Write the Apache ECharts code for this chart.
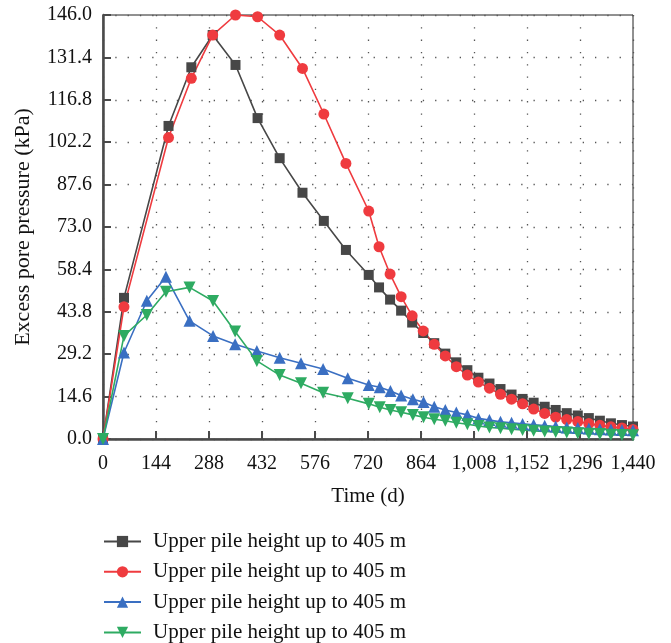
<!DOCTYPE html>
<html>
<head>
<meta charset="utf-8">
<script src="https://cdn.jsdelivr.net/npm/echarts@6/dist/echarts.min.js"></script>
<style>
html,body{margin:0;padding:0;background:#fff;}
#chart{width:671px;height:643px;}
</style>
</head>
<body>
<div id="chart"></div>
<script>
const seriesNames = ['Upper pile height up to 405 m','Upper pile height up to 405 m','Upper pile height up to 405 m','Upper pile height up to 405 m'];
const xTicks = [0,144,288,432,576,720,864,1008,1152,1296,1440];
const yTicks = [0.0,14.6,29.2,43.8,58.4,73.0,87.6,102.2,116.8,131.4,146.0];

const timeA = [0,57,178,240,298,360,420,480,542,600,660,722,750,780,810,840,870,900,930,960,990,1020,1050,1080,1110,1140,1170,1200,1230,1260,1290,1320,1350,1380,1410,1440];
const blackVals = [0,48.6,107.8,128.0,139.1,128.8,110.5,96.7,84.8,75.1,65.1,56.5,52.2,48.0,44.2,40.1,36.5,33.0,29.4,26.4,23.7,21.1,19.1,17.2,15.3,13.8,12.5,11.1,10.0,8.9,8.1,7.2,6.3,5.4,4.8,4.3];
const redVals = [0,45.5,103.8,124.2,139.1,146.0,145.4,139.1,127.6,111.9,94.9,78.5,66.2,56.8,49.0,42.4,37.2,32.6,28.6,24.9,22.0,19.6,17.5,15.4,13.7,12.1,10.3,8.8,7.5,6.7,6.0,5.3,4.7,4.2,3.8,3.3];

const timeB = [0,57,119,171,235,299,359,418,480,538,598,665,722,752,781,810,842,871,900,930,960,990,1020,1050,1080,1110,1140,1170,1200,1230,1260,1290,1320,1350,1380,1410,1440];
const blueVals = [0,29.8,47.6,55.9,40.7,35.5,32.6,30.3,28.0,26.1,24.1,20.9,18.6,17.8,16.5,15.0,13.7,12.7,11.1,10.0,9.1,8.3,7.1,6.5,5.9,5.6,5.2,4.9,4.6,4.3,4.0,3.8,3.6,3.4,3.3,3.1,3.0];
const greenVals = [0,35.5,42.7,50.7,52.2,47.5,37.0,26.9,22.0,19.2,15.9,14.0,12.1,10.9,10.0,9.2,8.3,7.5,6.8,6.3,5.6,5.1,4.5,4.0,3.7,3.4,3.1,2.8,2.6,2.4,2.2,2.0,1.8,1.7,1.5,1.4,1.3];

const colors = ['#474747','#ef3b3f','#3a6fc2','#2eab62'];
const symbols = ['rect','circle','triangle','path://M0,0 L10,0 L5,9 Z'];
const symbolSizes = [10,11,12,12];

function pair(xs, ys){ return xs.map((x,i)=>[x, ys[i]]); }
const datasets = [pair(timeA,blackVals), pair(timeA,redVals), pair(timeB,blueVals), pair(timeB,greenVals)];

const font = '"Liberation Serif","DejaVu Serif",serif';
function fmtX(v){ return Number(v).toLocaleString('en-US'); }

const chart = echarts.init(document.getElementById('chart'));
chart.setOption({
  animation:false,
  textStyle:{fontFamily:font},
  grid:{left:103,right:38,top:15,bottom:204,show:true,borderColor:'#222',borderWidth:1},
  legend:{
    orient:'vertical', left:103, top:531, height:125, padding:0,
    itemWidth:37, itemHeight:14, itemGap:9.3,
    textStyle:{fontFamily:font,fontSize:21,lineHeight:21,color:'#111',padding:[0,0,0,7]},
    data:seriesNames.map((n,i)=>({name:n+'\u200b'.repeat(i)}))
  },
  xAxis:{
    type:'value', min:xTicks[0], max:xTicks[xTicks.length-1], interval:144,
    name:'Time (d)', nameLocation:'middle', nameGap:47,
    nameTextStyle:{fontFamily:font,fontSize:21,color:'#111'},
    axisLine:{onZero:false,lineStyle:{color:'#4a4a4a',width:2.5}},
    axisTick:{inside:true,length:8,lineStyle:{color:'#4a4a4a',width:2}},
    axisLabel:{fontFamily:font,fontSize:20,color:'#111',margin:15,formatter:fmtX},
    splitLine:{show:true,lineStyle:{color:'#555',width:1.3,type:[1.3,11]}}
  },
  yAxis:{
    type:'value', min:yTicks[0], max:yTicks[yTicks.length-1], interval:14.6,
    name:'Excess pore pressure (kPa)', nameLocation:'middle', nameGap:69, nameRotate:90,
    nameTextStyle:{fontFamily:font,fontSize:22,color:'#111'},
    axisLine:{show:true,lineStyle:{color:'#4a4a4a',width:2.5}},
    axisTick:{show:true,inside:true,length:8,lineStyle:{color:'#4a4a4a',width:2}},
    axisLabel:{fontFamily:font,fontSize:20,color:'#111',margin:11,formatter:v=>Number(v).toFixed(1)},
    splitLine:{show:true,lineStyle:{color:'#555',width:1.3,type:[1.3,11]}}
  },
  series:datasets.map((d,i)=>({
    name:seriesNames[i]+'\u200b'.repeat(i),
    type:'line', data:d,
    symbol:symbols[i], symbolSize:symbolSizes[i],
    showAllSymbol:true, clip:false,
    itemStyle:{color:colors[i]},
    lineStyle:{color:colors[i],width:1.6}
  }))
});
</script>
</body>
</html>
